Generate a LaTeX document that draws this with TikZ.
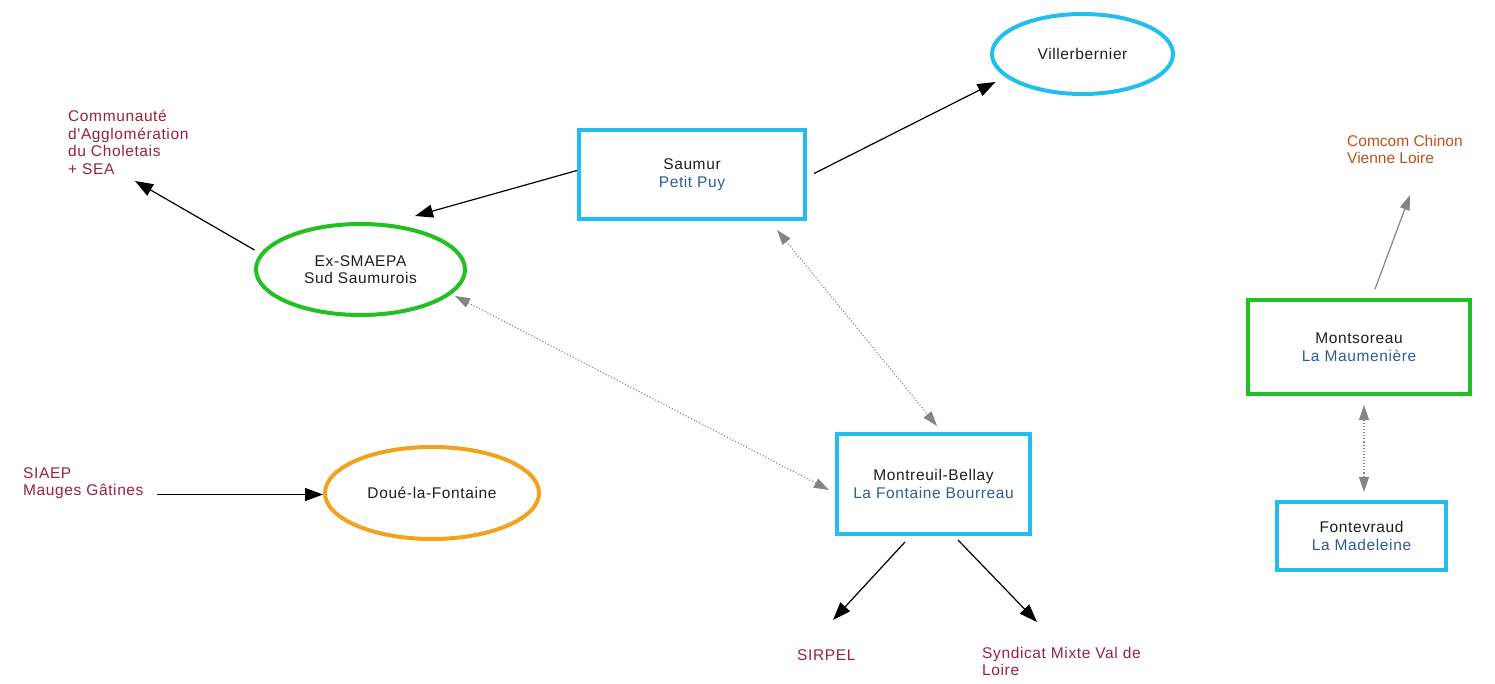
\documentclass[tikz,border=0pt]{standalone}
\usepackage{fontspec}
\setmainfont{Liberation Sans}
\newfontfamily\lsfont{Liberation Sans}[LetterSpace=4]
\usetikzlibrary{shapes.geometric,arrows.meta,calc}
\definecolor{cy}{HTML}{22BFEE}
\definecolor{gr}{HTML}{22C022}
\definecolor{orr}{HTML}{F4A21E}
\definecolor{txt}{HTML}{1E1E1E}
\definecolor{bl}{HTML}{2E5C9A}
\definecolor{mar}{HTML}{9B2040}
\definecolor{brn}{HTML}{C0501A}
\definecolor{gy}{HTML}{858585}
\tikzset{
  lbl/.style={font=\lsfont\fontsize{15.5}{17.5}\selectfont, align=center, text=txt},
  ext/.style={font=\lsfont\fontsize{15.5}{17.5}\selectfont, align=left, text=mar, inner sep=0pt, anchor=north west},
  boxc/.style={draw=cy, line width=4pt, rectangle, lbl, inner sep=0pt},
  boxg/.style={draw=gr, line width=4pt, rectangle, lbl, inner sep=0pt},
  ellc/.style={draw=cy, line width=4pt, ellipse, lbl, inner sep=0pt},
  ellg/.style={draw=gr, line width=4pt, ellipse, lbl, inner sep=0pt},
  ello/.style={draw=orr, line width=4pt, ellipse, lbl, inner sep=0pt},
  arr/.style={draw=black, line width=1.2pt, -{Triangle[length=18pt,width=13pt]}},
  garr/.style={draw=gy, line width=1.2pt, -{Triangle[length=15pt,width=10pt]}},
  darr/.style={draw=gy, line width=1.1pt, dotted, {Triangle[length=15pt,width=10pt]}-{Triangle[length=15pt,width=10pt]}},
}
\begin{document}
\begin{tikzpicture}[x=1pt,y=-1pt]
\useasboundingbox (0,0) rectangle (1495,684);

\node[ellc, minimum width=181pt, minimum height=80pt] (vil) at (1082.5,54) {Villerbernier};
\node[boxc, minimum width=226pt, minimum height=89pt] (sau) at (692,174.5) {Saumur\\\textcolor{bl}{Petit Puy}};
\node[ellg, minimum width=209pt, minimum height=91pt] (exs) at (360.5,269.5) {Ex-SMAEPA\\Sud Saumurois};
\node[ello, minimum width=214pt, minimum height=92pt] (doue) at (432,493) {Doué-la-Fontaine};
\node[boxc, minimum width=193pt, minimum height=100pt] (mon) at (933.5,484) {Montreuil-Bellay\\\textcolor{bl}{La Fontaine Bourreau}};
\node[boxg, minimum width=222pt, minimum height=94pt] (mts) at (1359,347) {Montsoreau\\\textcolor{bl}{La Maumenière}};
\node[boxc, minimum width=169pt, minimum height=68pt] (fon) at (1361.5,536) {Fontevraud\\\textcolor{bl}{La Madeleine}};

\node[ext] (comm) at (68,110) {Communauté\\d'Agglomération\\du Choletais\\+ SEA};
\node[ext] (siaep) at (23,467) {SIAEP\\Mauges Gâtines};
\node[ext] (sirpel) at (797,649) {SIRPEL};
\node[ext] (syn) at (982,647) {Syndicat Mixte Val de\\Loire};
\node[ext, font=\fontsize{15.5}{17.5}\selectfont, text=brn] (comcom) at (1347,135) {Comcom Chinon\\Vienne Loire};

\coordinate (commin) at (135,181);
\coordinate (siaepout) at (157,494.5);
\coordinate (sirpelin) at (833,620);
\coordinate (synin) at (1037,622);
\coordinate (comcomin) at (1410,195);

\draw[arr] ($(sau.west)+(0,-4)$) -- ($(exs.north)+(54.5,-6)$);
\draw[arr] ($(sau.east)+(7,-1)$) -- ($(vil.center)+(-87,28)$);
\draw[arr] ($(exs.center)+(-106,-19.5)$) -- (commin);
\draw[arr] (siaepout) -- ($(doue.west)+(0,1.5)$);
\draw[arr] ($(mon.south)+(-28.5,6)$) -- (sirpelin);
\draw[arr] ($(mon.south)+(24.5,4)$) -- (synin);
\draw[garr] ($(mts.north)+(16,-9)$) -- (comcomin);

\draw[darr] ($(sau.south)+(85,9)$) -- ($(mon.north)+(3.5,-6)$);
\draw[darr] ($(exs.center)+(94.5,26.5)$) -- ($(mon.west)+(-6,6)$);
\draw[darr] ($(mts.south)+(5,9)$) -- ($(fon.north)+(2.5,-8)$);
\end{tikzpicture}
\end{document}
